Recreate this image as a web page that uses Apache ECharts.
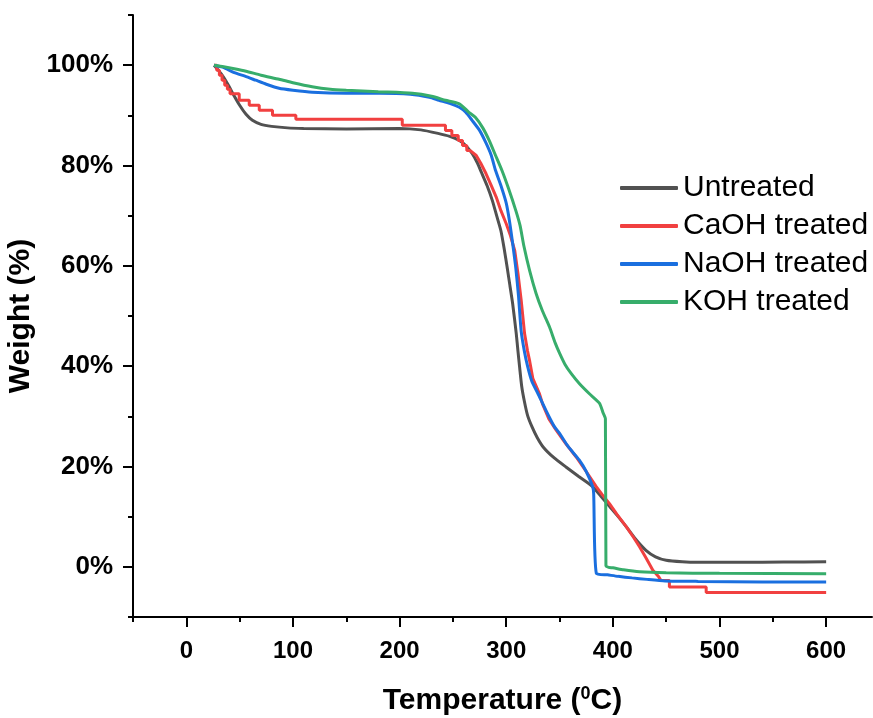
<!DOCTYPE html>
<html>
<head>
<meta charset="utf-8">
<script src="https://cdn.jsdelivr.net/npm/echarts@6/dist/echarts.min.js"></script>
<style>html,body{margin:0;padding:0;background:#fff}#c{width:873px;height:718px}</style>
</head>
<body>
<div id="c"></div>
<script>
const seriesNames = ['Untreated', 'CaOH treated', 'NaOH treated', 'KOH treated'];
const colors = ['#515151', '#F14040', '#1A6FDF', '#37AD6B'];
const xMajorTicks = [0, 100, 200, 300, 400, 500, 600];
const xMinorTicks = [-50, 50, 150, 250, 350, 450, 550];
const yMajorTicks = [0, 20, 40, 60, 80, 100];
const yMinorTicks = [-10, 10, 30, 50, 70, 90, 110];

const untreated = [[26,100],[30,99],[35,97.6],[40,95.8],[44,94.2],[50,92],[56,90.2],[62,89],[70,88.2],[80,87.8],[95,87.5],[110,87.4],[150,87.3],[200,87.4],[220,87.1],[236,86.4],[247,85.8],[256,85],[262,84],[268,82.4],[273,80.5],[277,78.5],[282,76],[287,73],[291,70],[295,67],[298,63.5],[301,59.5],[303.5,56],[306,52.5],[309.4,46.5],[311,43],[312.5,39.9],[314.5,36],[317,33],[320,30.2],[324,28],[329,25.8],[335,23.8],[345,21.7],[356,19.9],[368,18],[381,16],[389,14],[397,12],[405,10],[412.5,8],[421,5.6],[431,3.3],[440,2],[450,1.3],[465,1.0],[480,0.9],[520,0.9],[560,0.95],[600,1.0]];

const caoh = [[26,100],[28.5,100],[28.5,99],[31,99],[31,98],[33.5,98],[33.5,97],[36,97],[36,96],[38.5,96],[38.5,95.2],[41,95.2],[41,94.3],[49.6,94.3],[49.6,93],[59,93],[59,92],[68.4,92],[68.4,91],[80.8,91],[80.8,90],[102.7,90],[102.7,89.2],[202.5,89.2],[202.5,88],[243,88],[243,87],[249,87],[249,86],[255,86],[255,85],[259,85],[259,84],[263,84],[263,83],[266,83],[271.9,82],[276,80.5],[281,78.4],[286,76],[290.6,73.7],[295,71],[300,68.4],[304,66],[308,63],[311,58.5],[314,53.2],[317.2,46.5],[320,43],[322,41],[325,37.5],[331,34.6],[334,32.5],[340,29.5],[347,27.2],[356,24.5],[365.6,21.9],[375,19],[384.4,16],[390,14.4],[396.8,12.6],[404,10.4],[412.5,8],[419,6],[425,4],[431,1.8],[437.5,-0.7],[443,-2],[445,-2.7],[453,-2.7],[453,-4],[487.5,-4],[487.5,-5.1],[600,-5.1]];

const naoh = [[26,100],[34,99.6],[45,98.5],[55,97.8],[65,97],[75,96.2],[87,95.4],[100,95],[118,94.6],[150,94.4],[181,94.4],[210,94.2],[228,93.6],[237,93],[247,92.4],[256,91.6],[262,90.6],[268,89],[275,87],[281,84.5],[286,82],[290,79],[295,76],[300,72.5],[303,69],[306,64.5],[309,59.5],[311.5,54],[314,47],[317,43],[320,40],[324,37],[329.6,34.6],[337,31.3],[345,28],[350,26.6],[358,24],[368.4,21.3],[375,19],[381,16],[382,14.6],[384.5,-1.3],[395,-1.6],[405,-1.9],[418,-2.2],[432,-2.5],[449,-2.8],[480,-2.9],[540,-3.0],[600,-3.0]];

const koh = [[26,100],[35,99.7],[45,99.3],[56,98.8],[70,98],[87,97.2],[100,96.5],[118,95.7],[135,95.2],[150,95],[180,94.7],[212,94.4],[230,93.8],[243,93],[256,92.3],[265,90.6],[271,89.6],[278,87.5],[284,85],[290,82],[296,79],[302,75.5],[309,71],[313,68],[316.5,64],[322,59],[328,54.5],[334,51],[340.6,47.8],[346,44.6],[350,42.6],[355,40.4],[361,38.5],[368.7,36.5],[378,34.5],[387.5,32.6],[391,30.6],[393,29.5],[393.5,0.2],[396,-0.1],[400,-0.2],[410,-0.6],[425,-1],[450,-1.2],[500,-1.3],[600,-1.4]];

const allData = [untreated, caoh, naoh, koh];
const smoothing = [0.2, 0, 0.2, 0.2];

const FONT = '"Liberation Sans", Arial, sans-serif';
const chart = echarts.init(document.getElementById('c'), null, {renderer: 'canvas'});

const baseX = {type: 'value', min: -50, max: 643, position: 'bottom', splitLine: {show: false}};
const baseY = {type: 'value', min: -10, max: 110, position: 'left', splitLine: {show: false}};

chart.setOption({
  animation: false,
  backgroundColor: '#ffffff',
  grid: {left: 133, right: 1, top: 15, bottom: 101, containLabel: false, outerBoundsMode: 'none'},
  legend: {
    orient: 'vertical',
    left: 615,
    top: 168,
    itemWidth: 58,
    itemHeight: 4,
    itemGap: 8,
    icon: 'roundRect',
    data: seriesNames,
    textStyle: {fontFamily: FONT, fontSize: 30, color: '#000', padding: [0, 0, 0, 0]}
  },
  xAxis: [
    Object.assign({}, baseX, {
      name: '{a|Temperature (}{b|0}{a|C)}',
      nameLocation: 'middle',
      nameGap: 68,
      nameTextStyle: {
        rich: {
          a: {fontFamily: FONT, fontSize: 30, fontWeight: 'bold', color: '#000', lineHeight: 32},
          b: {fontFamily: FONT, fontSize: 18, fontWeight: 'bold', color: '#000', verticalAlign: 'top', lineHeight: 18}
        }
      },
      axisLine: {show: true, onZero: false, lineStyle: {color: '#000', width: 2}},
      axisTick: {show: true, length: 10, lineStyle: {color: '#000', width: 2}, customValues: xMajorTicks},
      axisLabel: {show: true, margin: 22, fontFamily: FONT, fontSize: 24, fontWeight: 'bold', color: '#000', customValues: xMajorTicks}
    }),
    Object.assign({}, baseX, {
      axisLine: {show: false, onZero: false},
      axisTick: {show: true, length: 5, lineStyle: {color: '#000', width: 2}, customValues: xMinorTicks},
      axisLabel: {show: false}
    })
  ],
  yAxis: [
    Object.assign({}, baseY, {
      name: 'Weight (%)',
      nameLocation: 'middle',
      nameGap: 82,
      nameTextStyle: {fontFamily: FONT, fontSize: 30, fontWeight: 'bold', color: '#000'},
      axisLine: {show: true, onZero: false, lineStyle: {color: '#000', width: 2}},
      axisTick: {show: true, length: 10, lineStyle: {color: '#000', width: 2}, customValues: yMajorTicks},
      axisLabel: {show: true, margin: 20, fontFamily: FONT, fontSize: 26, fontWeight: 'bold', color: '#000', formatter: '{value}%', customValues: yMajorTicks}
    }),
    Object.assign({}, baseY, {
      axisLine: {show: false, onZero: false},
      axisTick: {show: true, length: 5, lineStyle: {color: '#000', width: 2}, customValues: yMinorTicks},
      axisLabel: {show: false}
    })
  ],
  series: seriesNames.map((n, i) => ({
    name: n,
    type: 'line',
    xAxisIndex: 0,
    yAxisIndex: 0,
    data: allData[i],
    showSymbol: false,
    symbol: 'none',
    smooth: smoothing[i],
    lineStyle: {color: colors[i], width: 3},
    itemStyle: {color: colors[i]},
    z: [2, 3, 4, 5][i]
  }))
});
</script>
</body>
</html>
